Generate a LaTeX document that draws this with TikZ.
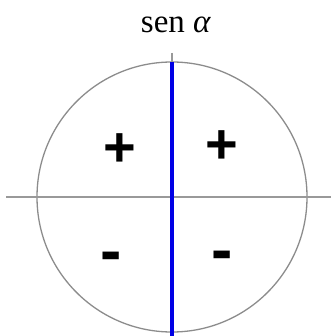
\documentclass[tikz,border=0pt]{standalone}
\usepackage{fontspec}
\setmainfont{Liberation Serif}
\newfontfamily\signfont{Liberation Sans}
\tikzset{
  axis/.style={draw=gray!80, line width=2pt},
  plus/.style={font=\signfont\bfseries\fontsize{56}{56}\selectfont, inner sep=0pt},
  minus/.style={font=\signfont\bfseries\fontsize{64}{64}\selectfont, inner sep=0pt},
}
\begin{document}
\begin{tikzpicture}[x=1pt,y=-1pt]
    \useasboundingbox (0,0) rectangle (331,336);
    \node (title) at (176,25){\fontsize{33}{38}\selectfont sen \textit{α}};
    \coordinate (O) at (172,197);
    \coordinate (W) at (6,197);
    \coordinate (E) at (331,197);
    \coordinate (N) at (172,62);
    \coordinate (Ntop) at (172,53);
    \coordinate (S) at (172,336);

    \draw[gray!90, line width=1.3pt] (O) circle[radius=135];
    \draw[axis] (W) -- (E);
    \draw[axis] (Ntop) -- (N);
    \draw[blue!90!black, line width=4pt] (N) -- (S);

    \node[plus] (q2) at (120,150){+};
    \node[plus] (q1) at (222,147){+};
    \node[minus] (q3) at (111,262){-};
    \node[minus] (q4) at (222,261){-};
  \end{tikzpicture}
\end{document}
